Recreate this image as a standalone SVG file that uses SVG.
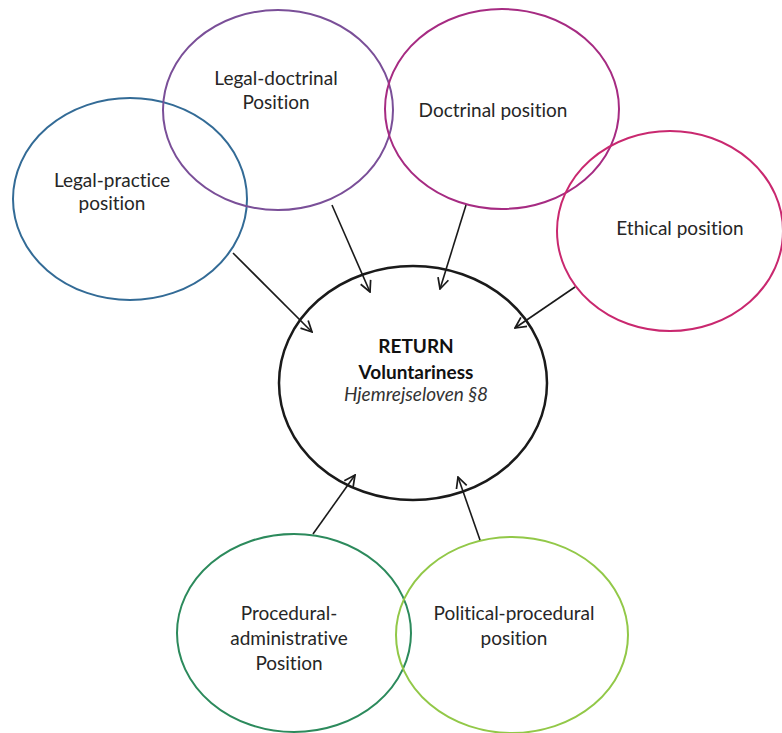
<svg xmlns="http://www.w3.org/2000/svg" width="782" height="733" viewBox="0 0 782 733">
  <defs>
    <marker id="open-arrow" viewBox="0 0 12 12" refX="11" refY="6" markerWidth="13" markerHeight="13" markerUnits="userSpaceOnUse" orient="auto">
      <path d="M1,1 L11,6 L1,11" fill="none" stroke="#1a1a1a" stroke-width="1.6"/>
    </marker>
  </defs>
  <style>
    .bubble { fill: none; stroke-width: 2; }
    .label { font-family: Lato, "Open Sans", "Liberation Sans", sans-serif; font-size: 19px; fill: #262626; text-anchor: middle; font-variant-ligatures: none; }
    .strong { font-weight: bold; fill: #111; }
    .law { font-style: italic; fill: #333; }
    .link { stroke: #1a1a1a; stroke-width: 1.6; fill: none; marker-end: url(#open-arrow); }
  </style>
  <rect width="782" height="733" fill="#ffffff"/>

  <g id="legal-practice">
    <ellipse class="bubble" cx="130" cy="199" rx="117" ry="101" stroke="#336b96"/>
    <text class="label" x="112" y="187">Legal-practice</text>
    <text class="label" x="112" y="210">position</text>
  </g>

  <g id="legal-doctrinal">
    <ellipse class="bubble" cx="278" cy="110" rx="115" ry="100" stroke="#7a4f98"/>
    <text class="label" x="276" y="85">Legal-doctrinal</text>
    <text class="label" x="276" y="109">Position</text>
  </g>

  <g id="doctrinal">
    <ellipse class="bubble" cx="502" cy="109" rx="117" ry="100" stroke="#a62b82"/>
    <text class="label" x="493" y="117">Doctrinal position</text>
  </g>

  <g id="ethical">
    <ellipse class="bubble" cx="670" cy="231" rx="113" ry="100" stroke="#c9286f"/>
    <text class="label" x="680" y="235">Ethical position</text>
  </g>

  <g id="return">
    <ellipse cx="413" cy="383" rx="134" ry="117" fill="none" stroke="#1a1a1a" stroke-width="2.5"/>
    <text class="label strong" x="416" y="353">RETURN</text>
    <text class="label strong" x="416" y="379">Voluntariness</text>
    <text class="label law" x="416" y="401">Hjemrejseloven §8</text>
  </g>

  <g id="procedural-administrative">
    <ellipse class="bubble" cx="294" cy="633" rx="117" ry="99" stroke="#2c8a5c"/>
    <text class="label" x="289" y="620">Procedural-</text>
    <text class="label" x="289" y="645">administrative</text>
    <text class="label" x="289" y="670">Position</text>
  </g>

  <g id="political-procedural">
    <ellipse class="bubble" cx="512" cy="635" rx="116" ry="98" stroke="#92c848"/>
    <text class="label" x="514" y="620">Political-procedural</text>
    <text class="label" x="514" y="645">position</text>
  </g>

  <g id="connectors">
    <line class="link" x1="233" y1="253" x2="312" y2="332"/>
    <line class="link" x1="332" y1="205" x2="370" y2="292"/>
    <line class="link" x1="466" y1="205" x2="440" y2="289"/>
    <line class="link" x1="575" y1="287" x2="515" y2="328"/>
    <line class="link" x1="313" y1="534" x2="355" y2="475"/>
    <line class="link" x1="480" y1="540" x2="458" y2="477"/>
  </g>
</svg>
